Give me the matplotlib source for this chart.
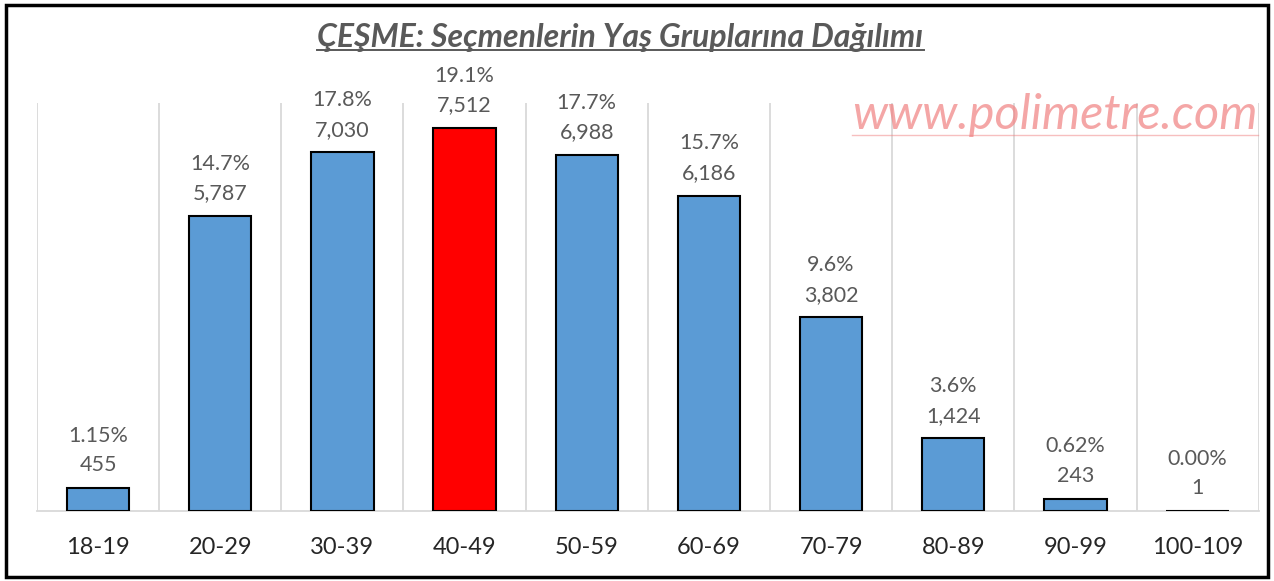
import matplotlib.pyplot as plt
from matplotlib.patches import Rectangle
from matplotlib.lines import Line2D

age_groups = ["18-19", "20-29", "30-39", "40-49", "50-59",
              "60-69", "70-79", "80-89", "90-99", "100-109"]
voters = [455, 5787, 7030, 7512, 6988, 6186, 3802, 1424, 243, 1]
pct_labels = ["1.15%", "14.7%", "17.8%", "19.1%", "17.7%",
              "15.7%", "9.6%", "3.6%", "0.62%", "0.00%"]
highlight = "40-49"

title = "ÇEŞME: Seçmenlerin Yaş Gruplarına Dağılımı"
watermark = "www.polimetre.com"

plt.rcParams["font.family"] = ["Lato", "DejaVu Sans"]

fig = plt.figure(figsize=(12.74, 5.81), dpi=100)
ax = fig.add_axes([0.029, 0.1205, 0.959, 0.7022])

colors = ["#FF0000" if g == highlight else "#5B9BD5" for g in age_groups]
x = range(len(age_groups))
ax.bar(x, voters, width=0.51, color=colors, edgecolor="black", linewidth=1.5, zorder=3)

for i, v in enumerate(voters):
    ax.annotate(f"{pct_labels[i]}\n{v:,}", (i, v), xytext=(0, 9), textcoords="offset points",
                ha="center", va="bottom", fontsize=15.5, color="#595959", linespacing=1.6, zorder=4)

ax.set_xlim(-0.5, len(age_groups) - 0.5)
ax.set_ylim(0, 8000)
ax.set_xticks(list(x))
ax.set_xticklabels(age_groups, fontsize=17, color="#262626")
ax.tick_params(axis="x", length=0, pad=19)
ax.set_yticks([])
for k in range(len(age_groups) + 1):
    ax.axvline(k - 0.5, color="#D9D9D9", linewidth=1.3, zorder=1)
for s in ["top", "right", "left"]:
    ax.spines[s].set_visible(False)
ax.spines["bottom"].set_color("#D9D9D9")
ax.spines["bottom"].set_linewidth(1.3)

t = fig.text(0.487, 0.935, title, ha="center", va="center", fontsize=23,
             fontstyle="italic", fontweight="bold", color="#595959")
w = fig.text(0.828, 0.802, watermark, ha="center", va="center", fontsize=35,
             fontstyle="italic", color="#F08080", alpha=0.7)

fig.canvas.draw()
r = fig.canvas.get_renderer()
inv = fig.transFigure.inverted()
for txt, col, lw, alpha in [(t, "#595959", 1.4, 1.0), (w, "#F08080", 1.0, 0.5)]:
    bb = txt.get_window_extent(r)
    (x0, y0), (x1, y1) = inv.transform([(bb.x0, bb.y0), (bb.x1, bb.y1)])
    fig.add_artist(Line2D([x0, x1], [y0 + 0.004, y0 + 0.004], transform=fig.transFigure,
                          color=col, linewidth=lw, alpha=alpha))

fig.add_artist(Rectangle((0.005, 0.007), 0.99, 0.985, transform=fig.transFigure,
                         fill=False, edgecolor="black", linewidth=2.5))

fig.savefig("out.png", dpi=100)
